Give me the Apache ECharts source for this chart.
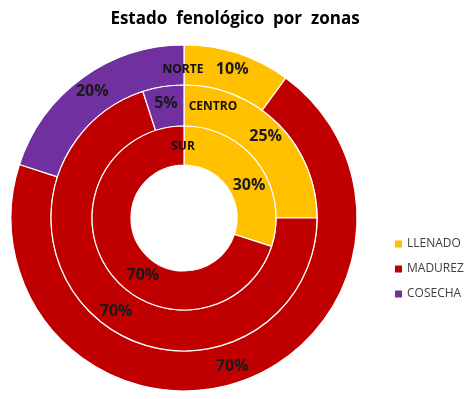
<!DOCTYPE html>
<html>
    <head>
        <meta charset="utf-8">
        <title>Estado fenológico</title>
        <script src="https://cdn.jsdelivr.net/npm/echarts@6/dist/echarts.min.js"></script>
    </head>
    <body style="margin:0">
        <div id="container" style="width:476px;height:399px"></div>
    </body>
    <script>
        var zones = ['NORTE', 'CENTRO', 'SUR'];
        var stages = ['LLENADO', 'MADUREZ', 'COSECHA'];
        var llenado = [10, 25, 30];
        var madurez = [70, 70, 70];
        var cosecha = [20, 5, 0];

        var stageColors = {'LLENADO': '#FFC000', 'MADUREZ': '#C00000', 'COSECHA': '#7030A0'};
        // outer -> inner radius of each ring
        var rings = [[133, 173], [92, 133], [53, 92]];
        var zoneLabelPos = [[183, 70], [213, 107], [183, 147]];
        // nudge the inner ring labels the way excel placed them
        var labelNudge = {'SUR-LLENADO': [4, 12], 'SUR-MADUREZ': [20, 13]};

        var chartDom = document.getElementById('container');
        var myChart = echarts.init(chartDom);

        var series = zones.map(function (zone, i) {
            var vals = [llenado[i], madurez[i], cosecha[i]];
            var data = [];
            stages.forEach(function (s, j) {
                if (vals[j] > 0) {
                    var item = {name: s, value: vals[j], itemStyle: {color: stageColors[s]}};
                    if (labelNudge[zone + '-' + s]) {
                        item.label = {offset: labelNudge[zone + '-' + s]};
                    }
                    data.push(item);
                }
            });
            return {
                name: zone,
                type: 'pie',
                center: [184, 218],
                radius: rings[i],
                startAngle: 90,
                clockwise: true,
                avoidLabelOverlap: false,
                animation: false,
                itemStyle: {borderColor: '#fff', borderWidth: 1.2},
                label: {
                    show: true,
                    position: 'inside',
                    formatter: '{c}%',
                    fontFamily: 'Open Sans',
                    fontWeight: 'bold',
                    fontSize: 16,
                    color: '#1a1a1a'
                },
                labelLine: {show: false},
                emphasis: {disabled: true},
                data: data
            };
        });

        var option = {
            backgroundColor: '#fff',
            title: {
                text: 'Estado  fenológico  por  zonas',
                left: 230,
                textAlign: 'center',
                top: 6,
                textStyle: {fontFamily: 'Open Sans', fontWeight: 'bold', fontSize: 17, color: '#000'}
            },
            legend: {
                orient: 'vertical',
                left: 388,
                top: 233,
                icon: 'rect',
                itemWidth: 9,
                itemHeight: 9,
                itemGap: 13,
                data: stages,
                textStyle: {fontFamily: 'Open Sans', fontSize: 12, color: '#404040', padding: [0, 0, 0, -1]}
            },
            graphic: zones.map(function (z, i) {
                return {
                    type: 'text',
                    x: zoneLabelPos[i][0],
                    y: zoneLabelPos[i][1],
                    style: {
                        text: z,
                        font: 'bold 12px "Open Sans"',
                        fill: '#111',
                        align: 'center',
                        verticalAlign: 'middle'
                    },
                    z: 100
                };
            }),
            series: series
        };

        myChart.setOption(option);
    </script>
</html>
